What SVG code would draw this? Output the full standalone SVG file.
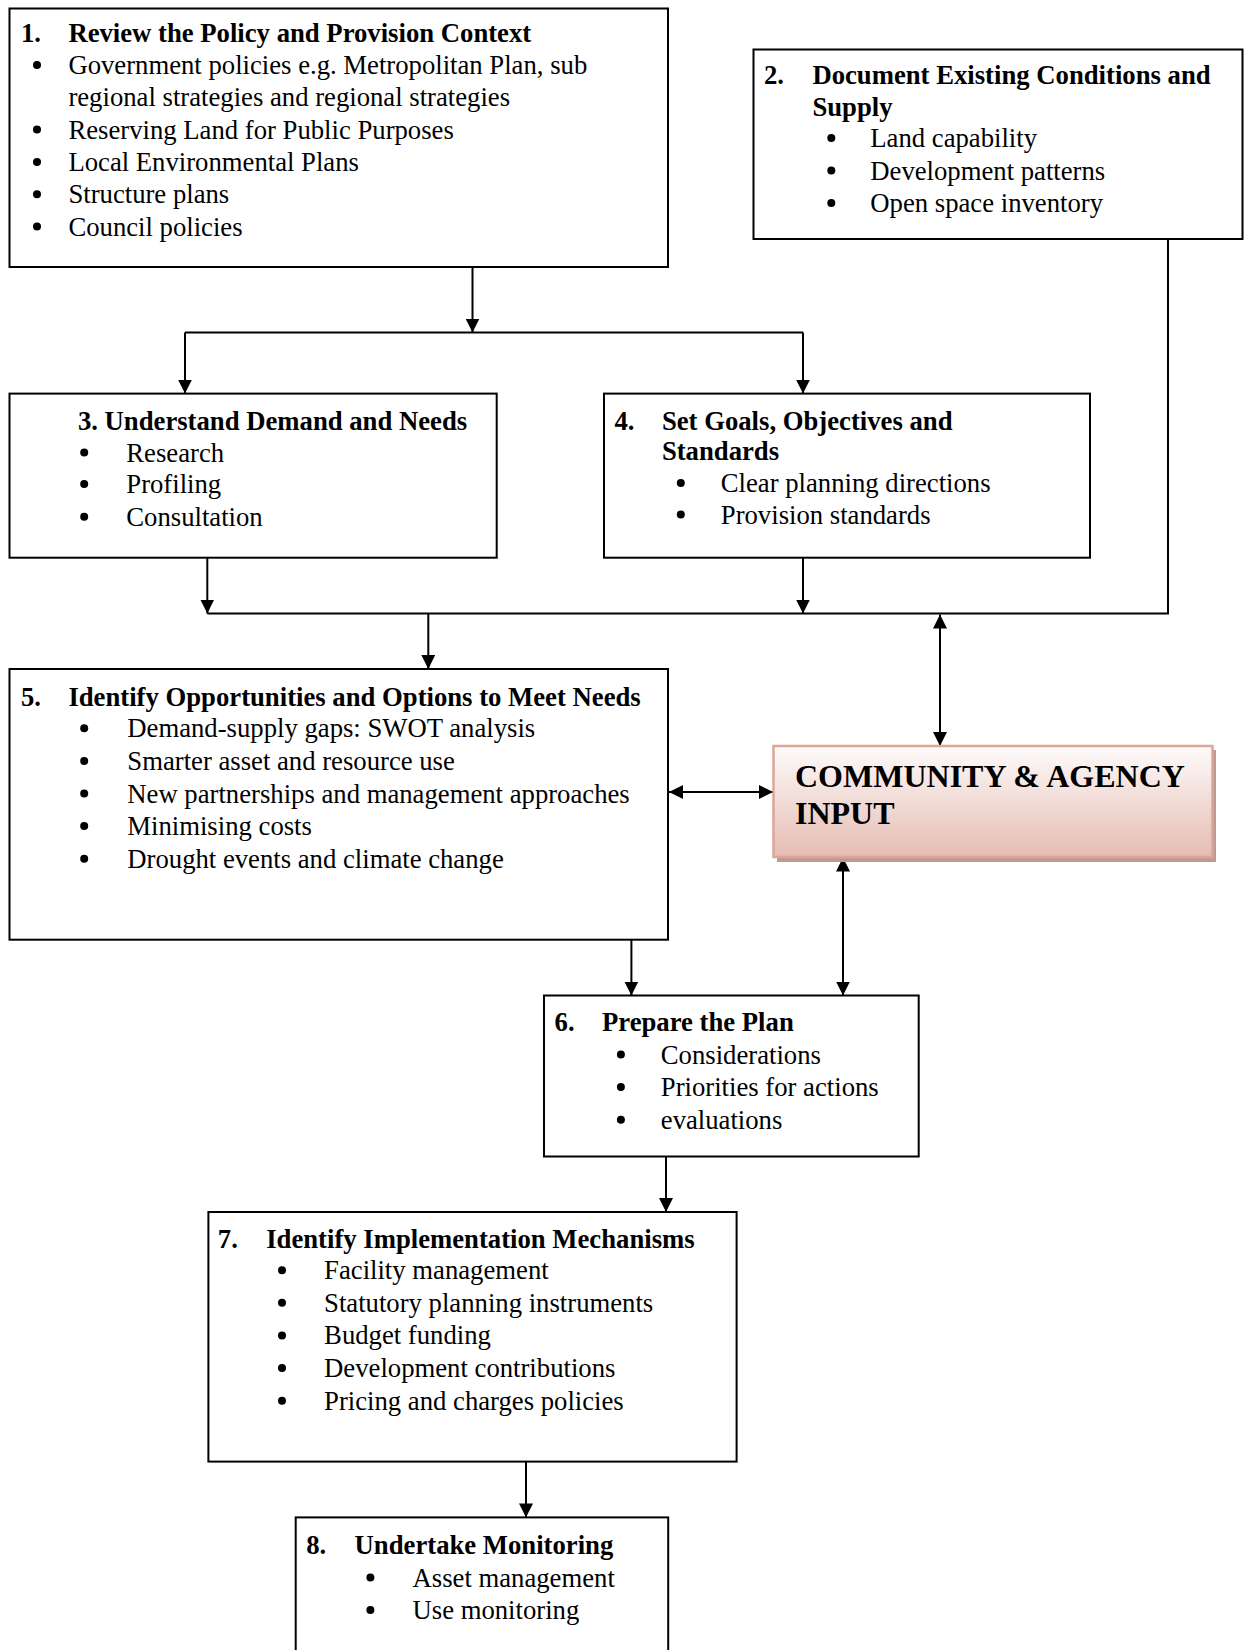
<svg xmlns="http://www.w3.org/2000/svg" width="1248" height="1650" viewBox="0 0 1248 1650">
  <style>
    .box { fill: #ffffff; stroke: #000000; stroke-width: 2; }
    .t { font-family: "Liberation Serif", "Times New Roman", serif; font-size: 26.7px; fill: #000000; }
    .b { font-weight: bold; }
    .big { font-family: "Liberation Serif", "Times New Roman", serif; font-size: 32px; font-weight: bold; fill: #000000; }
    .dot { fill: #000000; }
    .wire { fill: none; stroke: #000000; stroke-width: 2; }
  </style>
  <defs>
    <marker id="arrow" viewBox="0 0 14 14" refX="14" refY="7" markerWidth="14" markerHeight="14" markerUnits="userSpaceOnUse" orient="auto-start-reverse">
      <path d="M0,0 L14,7 L0,14 Z" fill="#000000"/>
    </marker>
    <linearGradient id="pink" x1="0" y1="0" x2="0" y2="1">
      <stop offset="0" stop-color="#fefbfb"/>
      <stop offset="1" stop-color="#e5bcb2"/>
    </linearGradient>
  </defs>

  <!-- connectors -->
  <g id="connectors">
    <path class="wire" d="M472.5,267 V332.5" marker-end="url(#arrow)"/>
    <path class="wire" d="M185,332.5 H803"/>
    <path class="wire" d="M185,332.5 V393.6" marker-end="url(#arrow)"/>
    <path class="wire" d="M803,332.5 V393.6" marker-end="url(#arrow)"/>
    <path class="wire" d="M207.3,557.7 V613.5" marker-end="url(#arrow)"/>
    <path class="wire" d="M803,557.7 V613.5" marker-end="url(#arrow)"/>
    <path class="wire" d="M1168,239 V613.5 H207.3"/>
    <path class="wire" d="M428.3,613.5 V669" marker-end="url(#arrow)"/>
    <path class="wire" d="M940,614.5 V746" marker-start="url(#arrow)" marker-end="url(#arrow)"/>
    <path class="wire" d="M669,792 H773" marker-start="url(#arrow)" marker-end="url(#arrow)"/>
    <path class="wire" d="M631.4,939.7 V995.5" marker-end="url(#arrow)"/>
    <path class="wire" d="M843,857.6 V995.5" marker-start="url(#arrow)" marker-end="url(#arrow)"/>
    <path class="wire" d="M666,1156.5 V1212" marker-end="url(#arrow)"/>
    <path class="wire" d="M526,1461.6 V1517.4" marker-end="url(#arrow)"/>
  </g>

  <!-- 1. Review the policy context -->
  <g id="step1">
    <rect class="box" x="9.5" y="8.5" width="658.5" height="258.5"/>
    <text class="t b" x="21" y="41.5">1.</text>
    <text class="t b" x="68.4" y="41.5">Review the Policy and Provision Context</text>
    <circle class="dot" cx="37" cy="65" r="4"/>
    <text class="t" x="68.4" y="74">Government policies e.g. Metropolitan Plan, sub</text>
    <text class="t" x="68.4" y="106.3">regional strategies and regional strategies</text>
    <circle class="dot" cx="37" cy="129.6" r="4"/>
    <text class="t" x="68.4" y="138.6">Reserving Land for Public Purposes</text>
    <circle class="dot" cx="37" cy="161.9" r="4"/>
    <text class="t" x="68.4" y="170.9">Local Environmental Plans</text>
    <circle class="dot" cx="37" cy="194.2" r="4"/>
    <text class="t" x="68.4" y="203.2">Structure plans</text>
    <circle class="dot" cx="37" cy="226.5" r="4"/>
    <text class="t" x="68.4" y="235.5">Council policies</text>
  </g>

  <!-- 2. Existing conditions -->
  <g id="step2">
    <rect class="box" x="753.5" y="49.5" width="489" height="189.5"/>
    <text class="t b" x="764" y="83.8">2.</text>
    <text class="t b" x="812.4" y="83.8">Document Existing Conditions and</text>
    <text class="t b" x="812.4" y="116.1">Supply</text>
    <circle class="dot" cx="831.3" cy="137.9" r="4"/>
    <text class="t" x="870.3" y="146.9">Land capability</text>
    <circle class="dot" cx="831.3" cy="170.5" r="4"/>
    <text class="t" x="870.3" y="179.5">Development patterns</text>
    <circle class="dot" cx="831.3" cy="203.1" r="4"/>
    <text class="t" x="870.3" y="212.1">Open space inventory</text>
  </g>

  <!-- 3. Demand and needs -->
  <g id="step3">
    <rect class="box" x="9.5" y="393.6" width="487.2" height="164.1"/>
    <text class="t b" x="77.9" y="430">3. Understand Demand and Needs</text>
    <circle class="dot" cx="84.2" cy="452.5" r="4"/>
    <text class="t" x="126.3" y="461.5">Research</text>
    <circle class="dot" cx="84.2" cy="484.1" r="4"/>
    <text class="t" x="126.3" y="493.1">Profiling</text>
    <circle class="dot" cx="84.2" cy="516.7" r="4"/>
    <text class="t" x="126.3" y="525.7">Consultation</text>
  </g>

  <!-- 4. Goals and standards -->
  <g id="step4">
    <rect class="box" x="604" y="393.6" width="486" height="164.1"/>
    <text class="t b" x="614.5" y="430">4.</text>
    <text class="t b" x="661.9" y="430">Set Goals, Objectives and</text>
    <text class="t b" x="661.9" y="460">Standards</text>
    <circle class="dot" cx="680.8" cy="483" r="4"/>
    <text class="t" x="720.8" y="492">Clear planning directions</text>
    <circle class="dot" cx="680.8" cy="514.6" r="4"/>
    <text class="t" x="720.8" y="523.6">Provision standards</text>
  </g>

  <!-- 5. Opportunities and options -->
  <g id="step5">
    <rect class="box" x="9.5" y="669" width="658.5" height="270.7"/>
    <text class="t b" x="21" y="705.7">5.</text>
    <text class="t b" x="68.4" y="705.7">Identify Opportunities and Options to Meet Needs</text>
    <circle class="dot" cx="84.2" cy="728.2" r="4"/>
    <text class="t" x="127.3" y="737.2">Demand-supply gaps: SWOT analysis</text>
    <circle class="dot" cx="84.2" cy="760.9" r="4"/>
    <text class="t" x="127.3" y="769.9">Smarter asset and resource use</text>
    <circle class="dot" cx="84.2" cy="793.5" r="4"/>
    <text class="t" x="127.3" y="802.5">New partnerships and management approaches</text>
    <circle class="dot" cx="84.2" cy="826.1" r="4"/>
    <text class="t" x="127.3" y="835.1">Minimising costs</text>
    <circle class="dot" cx="84.2" cy="858.7" r="4"/>
    <text class="t" x="127.3" y="867.7">Drought events and climate change</text>
  </g>

  <!-- Community & agency input -->
  <g id="community">
    <rect x="777" y="750" width="439" height="112" fill="#bf9a92"/>
    <rect x="773.5" y="746" width="439" height="111" fill="url(#pink)" stroke="#dba697" stroke-width="2.5"/>
    <text class="big" x="795" y="786.7">COMMUNITY &amp; AGENCY</text>
    <text class="big" x="795" y="824">INPUT</text>
  </g>

  <!-- 6. Prepare the plan -->
  <g id="step6">
    <rect class="box" x="544" y="995.5" width="374.7" height="161"/>
    <text class="t b" x="554.6" y="1030.8">6.</text>
    <text class="t b" x="602" y="1030.8">Prepare the Plan</text>
    <circle class="dot" cx="620.9" cy="1054.5" r="4"/>
    <text class="t" x="660.8" y="1063.5">Considerations</text>
    <circle class="dot" cx="620.9" cy="1087.1" r="4"/>
    <text class="t" x="660.8" y="1096.1">Priorities for actions</text>
    <circle class="dot" cx="620.9" cy="1119.7" r="4"/>
    <text class="t" x="660.8" y="1128.7">evaluations</text>
  </g>

  <!-- 7. Implementation mechanisms -->
  <g id="step7">
    <rect class="box" x="208.4" y="1212" width="528.2" height="249.6"/>
    <text class="t b" x="217.8" y="1247.6">7.</text>
    <text class="t b" x="266.2" y="1247.6">Identify Implementation Mechanisms</text>
    <circle class="dot" cx="282" cy="1270.2" r="4"/>
    <text class="t" x="324.1" y="1279.2">Facility management</text>
    <circle class="dot" cx="282" cy="1302.8" r="4"/>
    <text class="t" x="324.1" y="1311.8">Statutory planning instruments</text>
    <circle class="dot" cx="282" cy="1335.4" r="4"/>
    <text class="t" x="324.1" y="1344.4">Budget funding</text>
    <circle class="dot" cx="282" cy="1368" r="4"/>
    <text class="t" x="324.1" y="1377">Development contributions</text>
    <circle class="dot" cx="282" cy="1400.7" r="4"/>
    <text class="t" x="324.1" y="1409.7">Pricing and charges policies</text>
  </g>

  <!-- 8. Monitoring -->
  <g id="step8">
    <rect class="box" x="295.7" y="1517.4" width="372.5" height="160"/>
    <text class="t b" x="306.2" y="1553.8">8.</text>
    <text class="t b" x="354.6" y="1553.8">Undertake Monitoring</text>
    <circle class="dot" cx="370.4" cy="1577.5" r="4"/>
    <text class="t" x="412.5" y="1586.5">Asset management</text>
    <circle class="dot" cx="370.4" cy="1610" r="4"/>
    <text class="t" x="412.5" y="1619">Use monitoring</text>
  </g>
</svg>
